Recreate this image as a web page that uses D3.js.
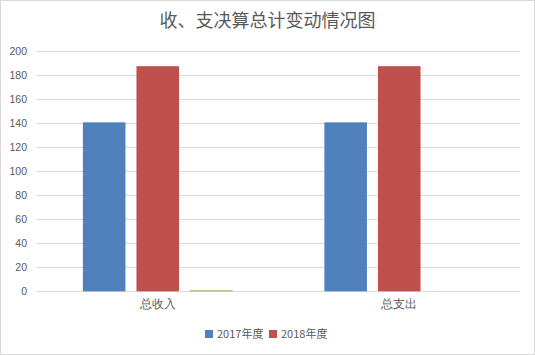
<!DOCTYPE html>
<html><head><meta charset="utf-8">
<script src="https://cdn.jsdelivr.net/npm/d3@7"></script>
<style>body{margin:0;background:#fff;}svg{display:block;font-family:"Noto Sans CJK SC","Noto Sans",sans-serif;}</style>
</head><body>
<svg id="c" width="535" height="355"></svg>
<script>
const title = "收、支决算总计变动情况图";
const categories = ["总收入", "总支出"];
const seriesNames = ["2017年度", "2018年度", ""];
const values2017 = [140.8, 140.8];
const values2018 = [187.6, 187.6];
const values3 = [0.9, 0];
const yTicks = [0, 20, 40, 60, 80, 100, 120, 140, 160, 180, 200];
const colors = ["#4f81bd", "#c0504d", "#9bbb59"];
const legendItems = [0, 1];

(function(){
const series = [values2017, values2018, values3];
const svg = d3.select("#c");
svg.append("rect").attr("x",0.5).attr("y",0.5).attr("width",534).attr("height",354)
  .attr("fill","#fff").attr("stroke","#d9d9d9");

const pLeft = 37, pRight = 520, pTop = 51.3, pBottom = 291.3;
const y = d3.scaleLinear().domain([0, 200]).range([pBottom, pTop]);
const x0 = d3.scaleBand().domain(categories).range([pLeft, pRight]).padding(0);
const bw = x0.bandwidth();
const x1 = d3.scaleBand().domain(d3.range(series.length)).range([bw*0.19, bw*0.81]).paddingInner(0.2056).paddingOuter(0);

svg.append("g").selectAll("line").data(yTicks).join("line")
  .attr("x1", pLeft).attr("x2", pRight)
  .attr("y1", d => Math.round(y(d))+0.5).attr("y2", d => Math.round(y(d))+0.5)
  .attr("stroke", "#d9d9d9").attr("stroke-width", 1);

const yAxis = d3.axisLeft(y).tickValues(yTicks).tickSize(0).tickPadding(0);
const ya = svg.append("g").attr("transform", `translate(27,0)`).call(yAxis);
ya.select(".domain").remove();
ya.selectAll("text").attr("font-size", 10.5).attr("fill", "#595959").attr("font-family", "inherit");

const g = svg.append("g");
categories.forEach((c, ci) => {
  series.forEach((s, si) => {
    const v = s[ci];
    if (v <= 0) return;
    g.append("rect")
      .attr("x", x0(c) + x1(si))
      .attr("width", x1.bandwidth())
      .attr("y", y(v))
      .attr("height", y(0) - y(v))
      .attr("fill", colors[si]);
  });
});

const xAxis = d3.axisBottom(x0).tickSize(0).tickPadding(0);
const xa = svg.append("g").attr("transform", `translate(0,${pBottom+6})`).call(xAxis);
xa.select(".domain").remove();
xa.selectAll("text").attr("font-size", 12).attr("fill", "#595959").attr("font-family", "inherit")
  .attr("dy", "0.9em");

svg.append("text").attr("x", 267.5).attr("y", 27).attr("text-anchor", "middle")
  .attr("font-size", 18).attr("fill", "#595959").text(title);

const lx = [205, 269];
legendItems.forEach((si, i) => {
  svg.append("rect").attr("x", lx[i]).attr("y", 330).attr("width", 8).attr("height", 8).attr("fill", colors[si]);
  svg.append("text").attr("x", lx[i] + 12).attr("y", 338).attr("font-size", 11).attr("fill", "#595959").text(seriesNames[si]);
});
})();
</script>
</body></html>
